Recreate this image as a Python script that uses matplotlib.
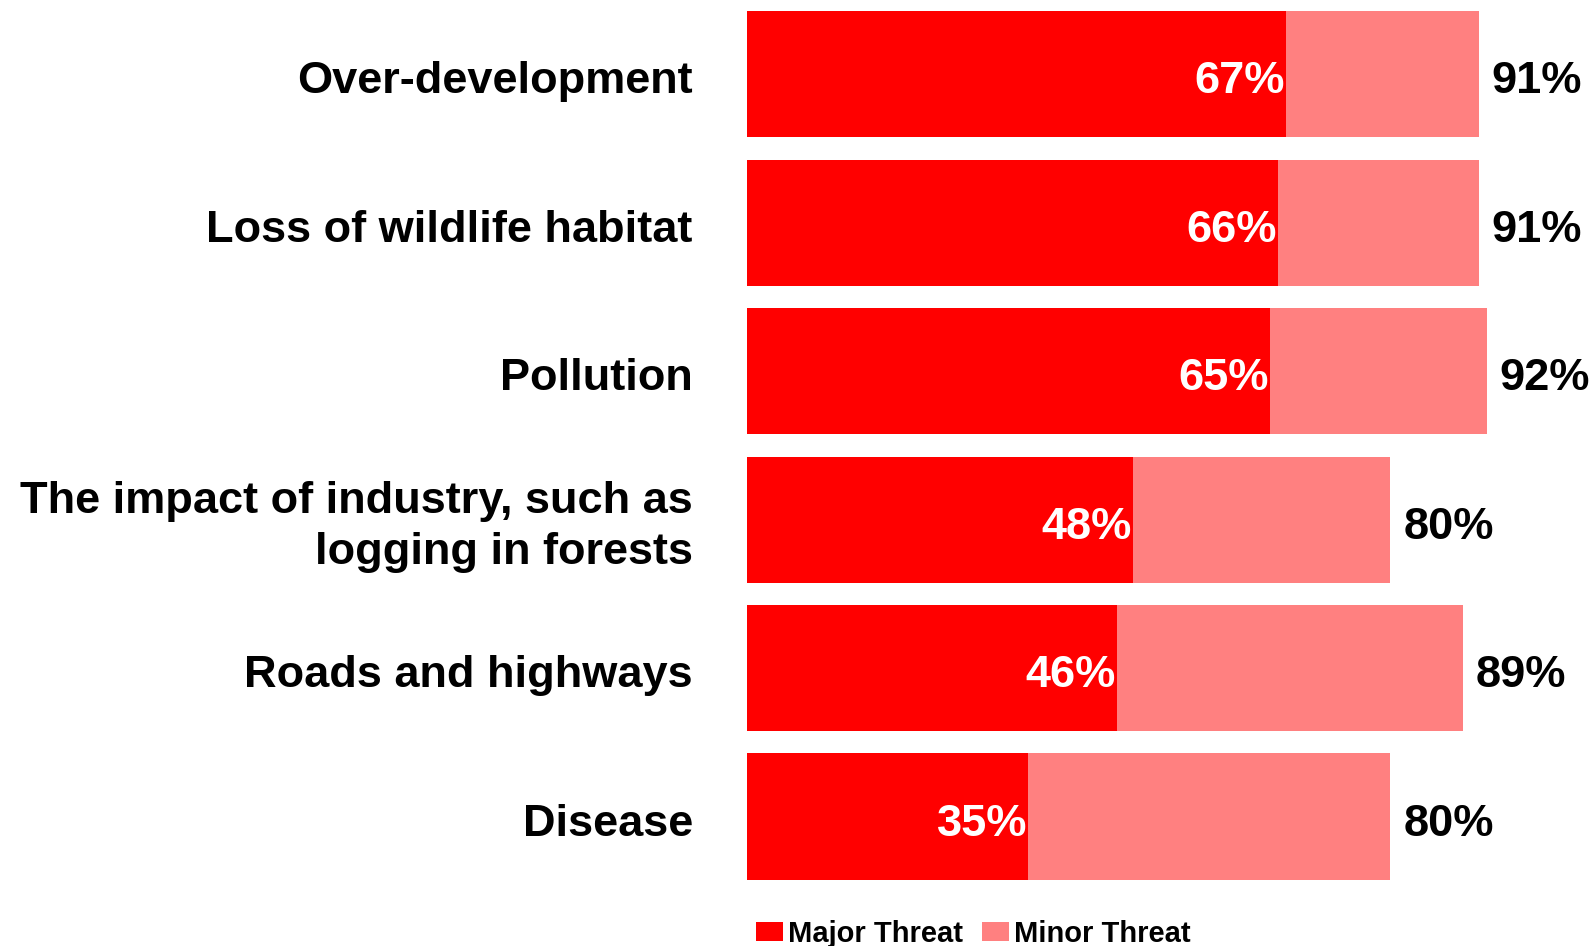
import matplotlib.pyplot as plt
from matplotlib.transforms import ScaledTranslation

plt.rcParams["font.family"] = ["Liberation Sans", "DejaVu Sans"]
plt.rcParams["font.weight"] = "bold"

categories = [
    "Over-development",
    "Loss of wildlife habitat",
    "Pollution",
    "The impact of industry, such as\nlogging in forests",
    "Roads and highways",
    "Disease",
]
major = [67, 66, 65, 48, 46, 35]
total = [91, 91, 92, 80, 89, 80]
minor = [t - m for t, m in zip(total, major)]

red = "#FF0000"
pink = "#FF8080"

fig = plt.figure(figsize=(15.94, 9.46), dpi=100)
ax = fig.add_axes([747 / 1594, 1 - 890.75 / 946, 804 / 1594, 890.75 / 946])

pos = list(range(len(categories)))
b1 = ax.barh(pos, major, height=0.85, color=red, label="Major Threat")
b2 = ax.barh(pos, minor, left=major, height=0.85, color=pink, label="Minor Threat")

ax.set_xlim(0, 100)
ax.set_ylim(5.5, -0.5)

ax.set_yticks(pos)
ax.set_yticklabels(categories, fontsize=32.5, fontweight="bold", ha="right",
                   linespacing=1.3)
ax.tick_params(axis="y", length=0, pad=39)
ax.set_xticks([])
for s in ax.spines.values():
    s.set_visible(False)

# nudge category labels: single lines down a little, the wrapped one up
for lbl in ax.get_yticklabels():
    dy = 2 if "\n" in lbl.get_text() else -3
    lbl.set_transform(lbl.get_transform()
                      + ScaledTranslation(0, dy / 100, fig.dpi_scale_trans))

# values inside (major) and past the end (total) of each bar
for y, m, t in zip(pos, major, total):
    ax.annotate(f"{m}%", (m, y), xytext=(-0.5, -5.5), textcoords="offset points",
                ha="right", va="center", color="white", fontsize=32.5,
                fontweight="bold")
    ax.annotate(f"{t}%", (t, y), xytext=(9.5, -5.5), textcoords="offset points",
                ha="left", va="center", color="black", fontsize=32.5,
                fontweight="bold")

fig.legend(handles=[b1, b2], loc="center left", bbox_to_anchor=(756 / 1594, 1 - 934 / 946),
           ncol=2, frameon=False, fontsize=21, borderpad=0, borderaxespad=0,
           handlelength=0.92, handleheight=0.62, handletextpad=0.17,
           columnspacing=0.65)

fig.savefig("out.png", dpi=100)
